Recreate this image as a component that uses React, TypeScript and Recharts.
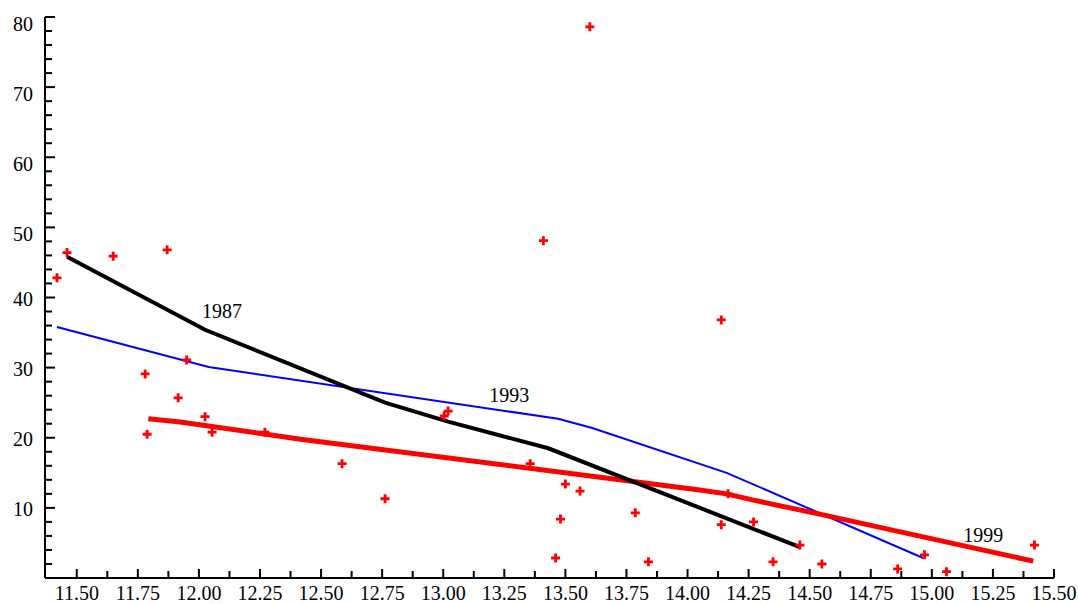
import React from "react";
import {
  ComposedChart,
  Line,
  Scatter,
  XAxis,
  YAxis,
  ReferenceDot,
} from "recharts";

// observations (red crosses)
const observed = [
  { x: 11.419, y: 42.8 },
  { x: 11.46, y: 46.4 },
  { x: 11.649, y: 45.9 },
  { x: 11.87, y: 46.8 },
  { x: 11.78, y: 29.1 },
  { x: 11.788, y: 20.5 },
  { x: 11.95, y: 31.1 },
  { x: 11.915, y: 25.7 },
  { x: 12.025, y: 23.0 },
  { x: 12.054, y: 20.8 },
  { x: 12.27, y: 20.8 },
  { x: 12.586, y: 16.3 },
  { x: 12.762, y: 11.3 },
  { x: 13.004, y: 23.1 },
  { x: 13.02, y: 23.8 },
  { x: 13.356, y: 16.3 },
  { x: 13.41, y: 48.1 },
  { x: 13.6, y: 78.6 },
  { x: 13.5, y: 13.4 },
  { x: 13.56, y: 12.4 },
  { x: 13.48, y: 8.4 },
  { x: 13.46, y: 2.85 },
  { x: 13.786, y: 9.3 },
  { x: 13.84, y: 2.3 },
  { x: 14.138, y: 36.8 },
  { x: 14.138, y: 7.6 },
  { x: 14.166, y: 12.0 },
  { x: 14.27, y: 8.0 },
  { x: 14.35, y: 2.3 },
  { x: 14.46, y: 4.7 },
  { x: 14.55, y: 2.0 },
  { x: 14.86, y: 1.3 },
  { x: 14.97, y: 3.3 },
  { x: 15.06, y: 0.9 },
  { x: 15.42, y: 4.7 },
];

const curve1987 = [
  { x: 11.46, y: 45.8 },
  { x: 12.025, y: 35.4 },
  { x: 12.762, y: 25.0 },
  { x: 13.02, y: 22.3 },
  { x: 13.43, y: 18.5 },
  { x: 14.46, y: 4.4 },
];

const curve1993 = [
  { x: 11.419, y: 35.8 },
  { x: 12.04, y: 30.1 },
  { x: 13.47, y: 22.7 },
  { x: 13.61, y: 21.4 },
  { x: 14.16, y: 15.0 },
  { x: 14.964, y: 2.85 },
];

const curve1999 = [
  { x: 11.793, y: 22.7 },
  { x: 11.923, y: 22.25 },
  { x: 12.415, y: 19.8 },
  { x: 14.05, y: 12.55 },
  { x: 14.16, y: 12.0 },
  { x: 14.27, y: 11.1 },
  { x: 14.555, y: 9.0 },
  { x: 15.415, y: 2.4 },
];

const curveLabels = [
  { x: 12.095, y: 38.1, text: "1987" },
  { x: 13.27, y: 26.1, text: "1993" },
  { x: 15.21, y: 6.1, text: "1999" },
];

const xLabelTicks = [
  11.5, 11.75, 12.0, 12.25, 12.5, 12.75, 13.0, 13.25, 13.5, 13.75, 14.0,
  14.25, 14.5, 14.75, 15.0, 15.25, 15.5,
];
const xMinorTicks = [
  11.625, 11.875, 12.125, 12.375, 12.625, 12.875, 13.125, 13.375, 13.625,
  13.875, 14.125, 14.375, 14.625, 14.875, 15.125, 15.375,
];
const xTicks = [...xLabelTicks, ...xMinorTicks].sort((a, b) => a - b);

const yLabelTicks = [10, 20, 30, 40, 50, 60, 70, 80];
const yMinorTicks = [
  2, 4, 6, 8, 12, 14, 16, 18, 22, 24, 26, 28, 32, 34, 36, 38, 42, 44, 46, 48,
  52, 54, 56, 58, 62, 64, 66, 68, 72, 74, 76, 78,
];
const yTicks = [...yLabelTicks, ...yMinorTicks].sort((a, b) => a - b);

const FONT = '"Liberation Serif", "Times New Roman", serif';

function XTick(props: any) {
  const { x, y, payload } = props;
  const major = xLabelTicks.includes(payload.value);
  return (
    <g>
      <line x1={x} x2={x} y1={y} y2={y - (major ? 9 : 7)} stroke="#000" strokeWidth={2} />
      {major && (
        <text x={x} y={y + 22} textAnchor="middle" fontSize={20} fontFamily={FONT} fill="#000">
          {payload.value.toFixed(2)}
        </text>
      )}
    </g>
  );
}

function YTick(props: any) {
  const { x, y, payload } = props;
  const major = yLabelTicks.includes(payload.value);
  return (
    <g>
      <line x1={x} x2={x + (major ? 10 : 7)} y1={y} y2={y} stroke="#000" strokeWidth={2} />
      {major && (
        <text
          x={x - 12}
          y={y + (payload.value >= 50 ? 7 : 1)}
          textAnchor="end"
          dominantBaseline="central"
          fontSize={20}
          fontFamily={FONT}
          fill="#000"
        >
          {payload.value}
        </text>
      )}
    </g>
  );
}

function Cross(props: any) {
  const { cx, cy } = props;
  return (
    <path
      d={`M${cx - 4.5},${cy}H${cx + 4.5}M${cx},${cy - 4.5}V${cy + 4.5}`}
      stroke="#ff0000"
      strokeWidth={2.8}
      fill="none"
    />
  );
}

export default function App() {
  return (
    <div style={{ width: 1078, height: 604 }}>
      <style>{`body{margin:0;overflow:hidden}`}</style>
      <ComposedChart
        width={1078}
        height={604}
        margin={{ top: 17, right: 24, bottom: 0, left: 0 }}
        style={{ fontFamily: FONT, overflow: "visible" }}
      >
        <XAxis
          type="number"
          dataKey="x"
          domain={[11.37, 15.5]}
          allowDataOverflow
          ticks={xTicks}
          interval={0}
          height={26}
          tickSize={0}
          tickMargin={0}
          tickLine={false}
          axisLine={{ stroke: "#000", strokeWidth: 2 }}
          tick={<XTick />}
        />
        <YAxis
          type="number"
          dataKey="y"
          domain={[0, 80]}
          allowDataOverflow
          ticks={yTicks}
          interval={0}
          width={45}
          tickSize={0}
          tickMargin={0}
          tickLine={false}
          axisLine={{ stroke: "#000", strokeWidth: 2 }}
          tick={<YTick />}
        />
        <Line
          data={curve1993}
          dataKey="y"
          type="linear"
          stroke="#0000ff"
          strokeWidth={2}
          dot={false}
          activeDot={false}
          isAnimationActive={false}
        />
        <Line
          data={curve1999}
          dataKey="y"
          type="linear"
          stroke="#ff0000"
          strokeWidth={5}
          dot={false}
          activeDot={false}
          isAnimationActive={false}
        />
        <Line
          data={curve1987}
          dataKey="y"
          type="linear"
          stroke="#000000"
          strokeWidth={4}
          dot={false}
          activeDot={false}
          isAnimationActive={false}
        />
        <Scatter data={observed} dataKey="y" shape={<Cross />} isAnimationActive={false} />
        {curveLabels.map((l) => (
          <ReferenceDot
            key={l.text}
            x={l.x}
            y={l.y}
            r={0}
            fill="none"
            stroke="none"
            ifOverflow="visible"
            label={{ value: l.text, position: "center", fontSize: 20, fontFamily: FONT, fill: "#000" }}
          />
        ))}
      </ComposedChart>
    </div>
  );
}
